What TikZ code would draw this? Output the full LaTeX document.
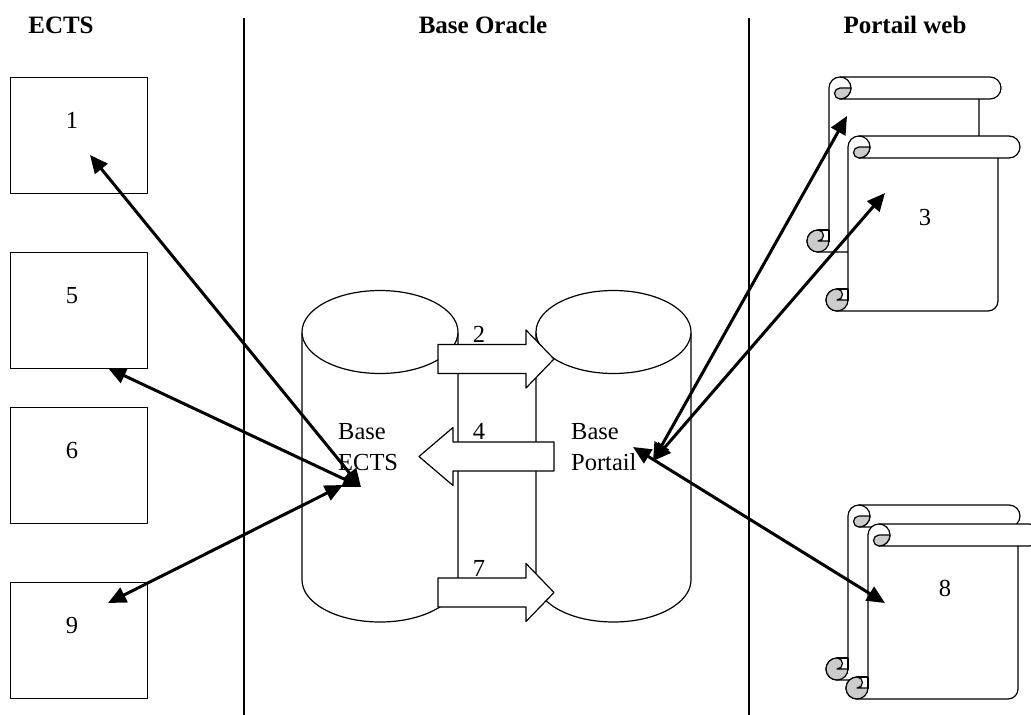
\documentclass[tikz,border=0pt]{standalone}
\usepackage{fontspec}
\setmainfont{Liberation Serif}
\usetikzlibrary{arrows.meta}
\tikzset{
  x=1pt,y=-1pt,
  thinline/.style={draw=black,line width=1.2pt,line join=round},
  proc/.style={thinline,fill=white,minimum width=137pt,minimum height=116pt,inner sep=0pt,anchor=north west},
  lbl/.style={font=\fontsize{24.5}{28}\selectfont,inner sep=0pt},
  head/.style={font=\fontsize{25}{28}\bfseries\selectfont,inner sep=0pt},
  flow/.style={line width=3pt,{Triangle[length=18pt,width=16pt]}-{Triangle[length=18pt,width=16pt]}},
  block/.style={thinline,fill=white},
  curl/.style={thinline,fill=black!20},
}
% #1 x of left edge, #2 y of top edge
\newcommand{\scrollshape}[2]{%
  \begin{scope}[shift={(#1,#2)}]
    \path[thinline,fill=white] (-11,175) -- (140,175) arc[start angle=270,end angle=360,radius=10pt]
      -- (150,22) -- (161,22) arc[start angle=-90,end angle=90,radius=11pt]
      -- (11,0) arc[start angle=90,end angle=180,radius=11pt]
      -- (0,153) -- (-11,153) arc[start angle=90,end angle=270,radius=11pt] -- cycle;
    \draw[thinline] (0,153) -- (0,165);
    \draw[thinline] (11,0) arc[start angle=90,end angle=-90,radius=11pt] -- (150,22);
    \draw[curl] (22,11) arc[start angle=0,end angle=-90,radius=11pt]
      arc[start angle=-90,end angle=-270,radius=5.5pt] -- cycle;
    \draw[curl] (-11,153) arc[start angle=90,end angle=360,radius=11pt]
      -- (-11,164) arc[start angle=-90,end angle=90,radius=5.5pt] -- cycle;
    \draw[thinline] (-11,153) -- (0,153);
  \end{scope}}
% #1 tail x, #2 head base x, #3 tip x, #4 centre y
\newcommand{\blockarrow}[4]{%
  \draw[block] (#1,#4-14.5) -- (#2,#4-14.5) -- (#2,#4-29) -- (#3,#4) -- (#2,#4+29) -- (#2,#4+14.5) -- (#1,#4+14.5) -- cycle;}
% #1 left, #2 right
\newcommand{\cyl}[2]{%
  \draw[thinline,fill=white] (#1,333) -- (#1,580) arc[start angle=180,end angle=360,x radius={(#2-#1)/2},y radius=-42] -- (#2,333);
  \draw[thinline,fill=white] ({(#1+#2)/2},332) ellipse[x radius={(#2-#1)/2},y radius=41.5];}
\begin{document}
\begin{tikzpicture}
\useasboundingbox (0,0) rectangle (1031,715);
\clip (0,0) rectangle (1031,715);
\fill[white] (0,0) rectangle (1031,715);
\coordinate (s1t) at (244,18); \coordinate (s1b) at (244,715);
\coordinate (s2t) at (749,18); \coordinate (s2b) at (749,715);
\draw[thinline] (s1t) -- (s1b);
\draw[thinline] (s2t) -- (s2b);
\node[head,anchor=base] (hE) at (61,33) {ECTS};
\node[head,anchor=base] (hB) at (483,33) {Base Oracle};
\node[head,anchor=base] (hP) at (905,33) {Portail web};
\node[proc] (b1) at (10,77) {};
\node[proc] (b5) at (10,252) {};
\node[proc] (b6) at (10,407) {};
\node[proc] (b9) at (10,582) {};
\node[lbl] (n1) at (72,120) {1};
\node[lbl] (n5) at (72,296) {5};
\node[lbl] (n6) at (72,451) {6};
\node[lbl] (n9) at (72,626) {9};
\cyl{302}{458}
\cyl{536}{691}
\blockarrow{438}{526}{554}{359}
\blockarrow{554}{453}{419}{456.5}
\blockarrow{438}{526}{554}{592.5}
\node[lbl] (n2) at (479,334) {2};
\node[lbl] (n4) at (479,431) {4};
\node[lbl] (n7) at (479,568) {7};
\node[lbl,anchor=base west] (bb1) at (338,439) {Base};
\node[lbl,anchor=base west] (bb2) at (338,470) {ECTS};
\node[lbl,anchor=base west] (bp1) at (571,439) {Base};
\node[lbl,anchor=base west] (bp2) at (571,470) {Portail};
\scrollshape{829}{77}
\scrollshape{848}{136}
\scrollshape{848}{505}
\scrollshape{868}{524}
\node[lbl] (n3) at (925,218) {3};
\node[lbl] (n8) at (945,588) {8};
\coordinate (hubE) at (361,487);
\coordinate (hubE9) at (343,485);
\coordinate (hubP) at (653,461);
\coordinate (hubP8) at (633,447);
\coordinate (t1) at (90,155);
\coordinate (t5) at (108,368);
\coordinate (t9) at (108,603);
\coordinate (ts1) at (847,116);
\coordinate (ts2) at (885,193);
\coordinate (ts8) at (885,603);
\draw[flow] (t1) -- (hubE);
\draw[flow] (t5) -- (hubE);
\draw[flow] (t9) -- (hubE9);
\draw[flow] (ts1) -- (hubP);
\draw[flow] (ts2) -- (hubP);
\draw[flow] (ts8) -- (hubP8);
\end{tikzpicture}
\end{document}
